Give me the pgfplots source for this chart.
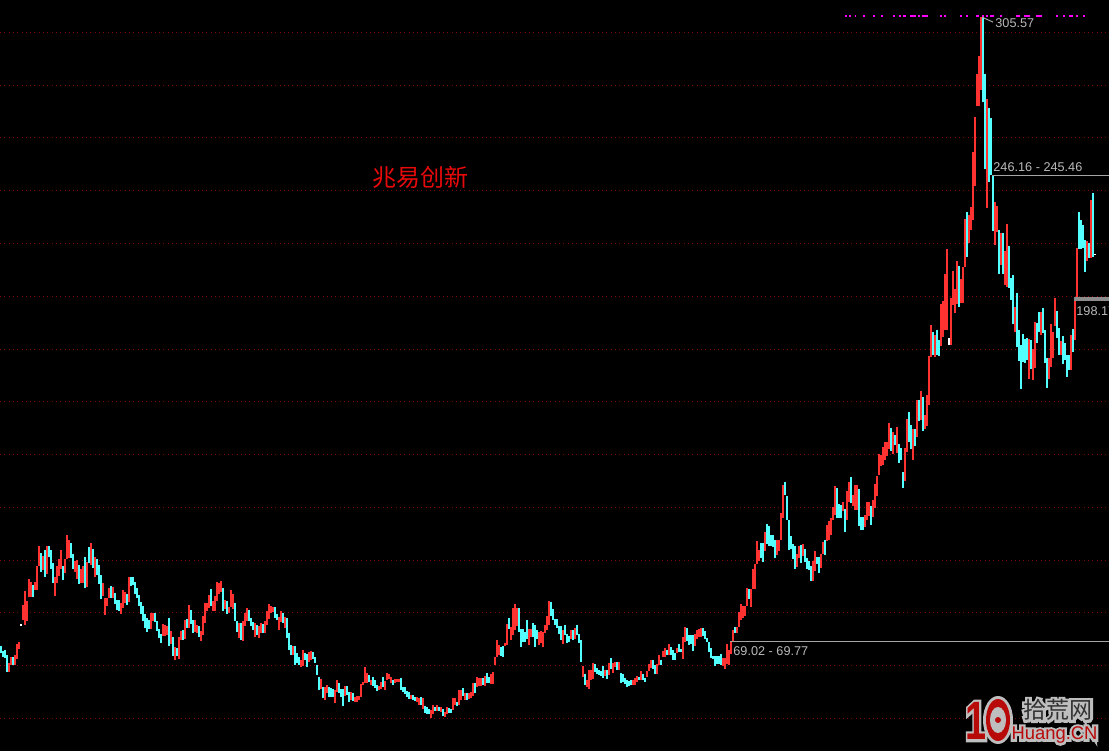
\documentclass[border=0pt]{standalone}
\usepackage{fontspec}
\setmainfont{Liberation Sans}
\newfontfamily\cjk{Noto Sans CJK SC}
\newfontfamily\cjkhalo[FakeBold=22]{Noto Sans CJK SC}
\newfontfamily\enhalo[FakeBold=26]{Liberation Sans}
\newfontfamily\onehalo[FakeBold=10]{Liberation Sans Bold}
\usepackage{pgfplots}
\usepackage{pgfplotstable}
\pgfplotsset{compat=1.18}
\definecolor{barred}{RGB}{255,50,50}
\definecolor{barcyan}{RGB}{84,255,255}
\definecolor{griddot}{RGB}{125,5,5}
\definecolor{lvl}{RGB}{165,165,165}
\definecolor{lbl}{RGB}{185,185,185}
\definecolor{halo}{RGB}{190,190,190}
\definecolor{logored}{RGB}{185,10,10}
\definecolor{topdots}{RGB}{255,0,255}
\pgfplotstableread{
x lo hi
4 57.2 60.3
5 59.6 62.7
7 59.6 63.5
8 62.1 67.7
9 65.8 68.4
11 76.8 82.5
12 74.9 87.8
13 76.4 84.0
14 85.7 92.4
15 85.5 91.2
17 88.2 91.2
18 88.2 97.3
19 97.3 104.9
21 95.8 101.1
23 94.3 104.9
27 85.9 93.3
28 90.9 97.3
29 93.5 100.0
30 96.2 103.4
32 94.5 100.0
33 100.0 109.1
34 100.4 107.2
37 95.0 99.2
38 92.2 99.6
40 90.7 96.2
41 90.7 97.3
43 89.3 98.8
45 97.7 106.1
47 93.1 100.7
51 85.9 90.9
52 78.7 85.2
53 82.1 85.2
54 85.2 89.0
56 85.2 89.3
60 79.1 83.3
61 81.4 88.2
62 83.1 87.4
64 83.6 93.1
75 73.4 79.5
76 76.4 79.5
81 70.7 75.3
82 70.7 74.9
83 71.1 74.5
85 67.7 72.6
87 61.6 66.5
89 62.0 70.3
90 69.2 72.6
92 69.5 76.8
94 73.8 82.5
97 72.2 76.8
98 71.7 74.9
100 68.8 72.6
101 71.1 78.3
102 75.7 83.3
103 80.2 83.3
104 81.4 86.3
106 80.2 84.0
107 80.2 85.9
108 84.0 91.1
109 86.7 90.7
110 87.3 91.6
112 81.0 84.4
114 79.5 81.7
115 81.7 88.2
116 81.0 86.7
119 70.0 75.7
121 68.8 76.4
122 74.5 79.5
123 76.4 81.4
127 70.3 75.7
129 70.0 74.5
130 71.9 75.7
132 71.9 76.4
133 74.9 80.2
134 77.2 82.9
135 79.5 82.1
136 79.8 81.7
139 73.0 77.9
140 76.0 80.2
142 73.8 77.9
146 63.5 66.9
150 58.9 61.6
151 59.3 65.4
154 60.8 64.6
155 61.6 65.0
160 50.6 54.4
162 46.4 51.3
163 49.1 52.1
167 45.3 50.2
168 49.4 54.0
172 47.9 51.7
175 46.4 49.4
177 45.6 47.5
178 45.6 47.9
179 46.4 47.9
180 47.5 52.5
181 52.1 53.2
182 52.9 58.9
183 52.9 56.7
185 52.1 54.0
189 50.2 51.7
190 50.6 53.2
192 50.2 53.6
193 54.0 56.7
194 54.4 56.3
195 52.9 55.1
197 52.9 54.4
198 53.2 54.4
199 53.2 54.4
205 46.8 48.3
208 45.6 47.5
209 44.5 47.2
211 43.0 47.2
215 39.6 42.6
216 41.1 44.5
218 42.2 44.5
220 41.8 43.7
222 39.9 41.8
223 41.1 43.7
226 42.6 47.2
227 44.5 47.2
229 44.5 50.2
230 46.4 50.2
232 46.4 49.1
234 46.8 49.1
235 47.2 49.4
236 47.9 52.9
238 51.3 55.1
239 51.7 54.8
240 51.7 54.8
242 51.7 55.5
245 52.5 56.3
246 52.5 57.0
247 59.7 62.7
248 62.7 69.2
249 63.5 67.3
252 66.9 68.1
253 67.3 75.3
255 69.2 74.1
256 71.1 81.4
257 73.0 82.9
258 74.5 81.4
264 67.3 73.4
265 70.3 73.4
269 67.3 72.2
270 68.1 72.6
271 66.5 72.2
272 71.9 74.9
273 73.0 78.3
274 74.9 84.0
281 67.7 73.0
285 69.6 73.0
287 69.6 73.8
291 55.1 59.3
293 51.3 54.0
294 50.6 57.8
295 54.0 57.8
296 54.4 60.5
302 55.5 57.8
304 55.9 60.5
306 56.7 60.5
307 58.9 60.8
309 57.8 60.8
316 52.1 54.0
317 52.1 54.8
318 53.2 55.5
320 54.0 57.4
323 55.1 57.4
324 57.4 60.1
325 58.6 61.6
328 56.3 60.1
329 59.7 63.5
331 62.7 65.0
332 62.7 66.2
334 63.5 67.7
338 64.3 66.2
341 62.0 70.3
342 68.4 74.1
347 66.9 71.5
348 69.6 73.0
349 70.3 73.4
350 70.3 73.8
361 59.3 62.4
362 58.3 62.4
363 60.1 67.7
364 59.7 65.4
365 63.9 68.4
366 68.4 73.0
368 71.9 74.1
369 74.1 79.8
370 76.8 82.9
371 77.6 82.1
372 78.3 82.1
373 82.1 89.0
375 81.7 88.6
376 88.6 96.2
377 88.6 98.1
378 98.1 106.8
379 99.2 103.4
382 103.0 110.2
388 101.5 107.2
389 103.0 107.2
390 107.2 117.5
391 115.6 128.1
398 96.9 101.9
399 100.4 104.9
401 101.1 105.7
406 91.6 99.2
407 95.4 103.0
410 96.6 101.9
411 101.9 106.4
413 106.8 112.9
414 107.2 114.4
415 109.1 115.6
416 114.8 119.7
417 116.7 127.7
421 118.2 121.6
423 114.8 125.8
424 121.6 129.2
426 120.1 124.3
427 118.6 128.1
428 118.6 128.1
432 112.1 116.7
433 114.8 121.6
434 116.3 121.6
436 115.9 122.4
437 119.4 128.5
438 123.9 131.5
439 131.9 139.9
440 135.3 139.5
441 135.7 142.5
442 137.6 144.4
443 139.1 144.4
444 141.8 151.7
446 139.9 148.2
448 140.3 150.1
452 129.6 142.2
453 140.6 153.2
456 137.6 149.4
458 146.3 160.4
460 152.8 163.8
462 149.4 154.7
463 150.5 162.3
464 158.5 177.1
465 176.7 188.9
467 176.7 185.1
470 180.9 196.9
471 184.3 198.0
472 187.0 208.3
473 187.0 217.8
475 181.3 199.2
476 196.5 209.4
477 193.5 202.6
478 196.9 213.2
480 197.3 206.4
481 197.3 210.9
482 210.9 229.2
484 220.1 230.7
485 225.0 233.7
486 228.8 254.6
487 241.7 267.9
488 272.1 284.3
489 272.1 291.1
490 278.2 305.9
493 233.4 274.8
497 219.3 235.6
498 224.2 234.1
500 211.7 223.9
502 204.1 217.0
503 203.3 227.3
507 186.2 195.7
514 168.4 183.6
516 168.0 179.8
517 172.6 190.0
520 185.1 193.9
524 168.4 176.4
525 172.9 189.3
526 176.4 186.2
527 188.5 199.2
530 177.5 182.8
535 171.8 185.1
537 183.2 198.0
538 198.4 218.2
543 213.2 220.8
545 214.4 236.4
}\redbars
\pgfplotstableread{
x lo hi
0 64.1 66.9
1 62.6 65.1
2 62.4 65.4
3 57.2 63.5
6 59.6 62.7
16 85.5 90.1
20 95.0 102.3
22 93.1 103.4
24 100.9 104.9
25 96.2 103.4
26 90.9 98.5
31 92.0 97.3
35 100.4 106.1
36 96.2 101.9
39 90.5 97.7
42 89.0 100.7
44 98.3 104.5
46 96.6 103.8
48 93.9 100.0
49 90.5 97.7
50 84.8 93.9
55 85.2 89.7
57 82.9 87.1
58 80.6 84.4
59 80.2 84.4
63 82.5 86.7
65 89.7 93.1
66 90.1 93.1
67 86.7 91.2
68 85.2 89.0
69 82.1 86.3
70 79.1 83.6
71 76.4 82.1
72 73.6 79.1
73 72.2 77.6
74 73.4 76.8
77 76.0 79.5
78 72.6 76.4
79 70.0 73.4
80 68.1 71.5
84 66.9 77.6
86 63.1 70.3
88 63.1 66.2
91 69.2 73.0
93 73.8 77.2
95 75.3 80.6
96 71.7 76.8
99 70.3 74.5
105 82.1 88.6
111 80.2 89.0
113 79.1 84.0
117 76.4 83.3
118 72.2 76.4
120 69.2 75.7
124 76.4 80.6
125 74.5 77.6
126 73.0 76.0
128 71.1 74.9
131 71.9 75.3
137 77.6 81.7
138 76.8 79.1
141 75.7 79.5
143 70.0 77.6
144 65.4 71.9
145 63.5 67.3
147 59.7 66.9
148 60.5 64.3
149 59.7 62.7
152 61.6 64.3
153 58.9 63.9
156 62.0 64.6
157 60.5 62.7
158 55.9 59.7
159 50.2 55.1
161 47.1 51.3
164 47.5 51.3
165 47.5 51.0
166 47.5 50.6
169 49.1 52.9
170 47.5 50.6
171 44.1 50.6
173 48.3 51.7
174 45.6 49.4
176 46.0 49.1
184 53.2 55.9
186 51.7 55.1
187 51.0 54.0
188 49.8 52.1
191 51.3 55.1
196 52.1 54.0
200 50.2 54.8
201 49.4 51.3
202 48.7 51.3
203 47.5 49.8
204 46.8 49.4
206 46.4 48.3
207 46.0 47.5
210 44.5 47.5
212 41.5 44.1
213 41.1 43.7
214 41.1 43.0
217 42.2 43.7
219 42.2 43.7
221 40.3 43.0
224 41.5 43.4
225 41.5 43.0
228 44.1 45.6
231 47.9 51.0
233 46.4 49.1
237 49.1 52.9
241 52.1 54.8
243 52.9 56.7
244 52.9 55.1
250 63.1 66.5
251 62.7 66.9
254 73.4 77.6
259 72.2 81.4
260 66.5 73.4
261 68.4 73.4
262 68.4 72.2
263 69.6 76.8
266 70.3 75.7
267 66.5 74.9
268 69.6 73.0
275 78.3 83.6
276 76.8 81.0
277 74.9 77.2
278 73.8 77.2
279 71.5 74.5
280 69.2 74.5
282 71.1 74.9
283 68.1 71.5
284 68.4 70.7
286 69.2 73.0
288 71.1 74.9
289 68.1 71.5
290 60.8 69.2
292 52.1 56.3
297 57.0 60.1
298 56.3 58.6
299 55.9 57.8
300 55.5 57.4
301 54.8 59.3
303 54.4 57.8
305 58.2 62.4
308 57.8 60.8
310 52.9 56.7
311 53.2 56.3
312 52.5 54.8
313 51.3 54.0
314 51.7 53.6
315 52.1 54.0
319 54.0 55.1
321 54.0 56.3
322 53.2 54.8
326 58.2 61.6
327 56.3 59.7
330 59.7 61.6
333 63.5 65.4
335 63.5 66.5
336 61.6 65.4
337 61.6 64.3
339 64.6 67.7
340 64.6 65.8
343 68.8 73.8
344 67.3 71.1
345 67.7 71.1
346 65.0 71.1
351 70.7 73.8
352 69.6 72.6
353 68.4 70.0
354 64.6 68.4
355 62.4 66.2
356 62.0 63.1
357 59.3 63.1
358 60.1 63.1
359 60.1 63.1
360 59.7 63.9
367 71.9 74.1
374 84.8 88.6
380 100.4 106.1
381 98.8 106.1
383 105.7 113.3
384 104.9 112.5
385 104.9 109.1
386 104.5 109.1
387 100.4 107.2
392 124.3 129.2
393 114.8 123.9
394 103.4 114.8
395 103.8 108.7
396 100.0 105.7
397 96.2 104.9
400 98.5 105.3
402 98.8 103.8
403 96.2 100.4
404 95.8 99.2
405 91.6 97.3
408 98.1 100.7
409 94.7 100.7
412 101.5 107.2
418 115.6 127.0
419 115.6 120.9
420 115.6 120.5
422 110.2 119.0
425 121.3 131.1
429 112.5 126.6
430 111.0 115.9
431 111.0 115.9
435 112.9 120.1
445 141.0 149.8
447 143.3 147.1
449 136.5 143.7
450 137.6 142.2
451 127.0 133.0
454 144.4 155.8
455 141.8 150.9
457 142.9 149.4
459 152.4 160.4
461 148.6 161.5
466 177.5 186.2
468 177.5 187.0
469 177.1 183.2
479 195.7 211.3
483 214.7 231.8
491 273.6 305.9
492 248.2 284.3
494 243.2 271.4
495 245.9 267.6
496 224.6 245.5
499 208.3 225.0
501 208.3 223.9
504 203.0 218.9
505 198.4 206.8
506 189.3 207.9
508 180.5 201.1
509 175.2 187.0
510 164.6 181.3
511 174.8 185.5
512 174.5 183.6
513 175.6 184.0
515 172.2 183.2
518 182.1 189.7
519 186.2 193.9
521 185.9 195.4
522 174.5 187.0
523 165.0 176.4
528 184.0 194.2
529 177.5 187.8
531 174.1 184.7
532 175.6 182.1
533 169.1 177.5
534 171.8 177.5
536 178.6 187.4
539 217.8 231.8
540 217.8 228.8
541 218.2 226.9
542 209.0 221.2
544 214.4 220.1
546 214.7 239.1
}\cyanbars
\pgfplotstableread{
x lo hi
10 74.7 75.1
474 181.3 184.0
547 215.5 215.9
}\whitebars
\pgfplotstableread{
x y w
422 306.4 1
424 306.4 1
427 306.4 0.6
431 306.4 1
436 306.4 1
440 306.4 1
446 306.4 1
449 306.4 1
451 306.4 1.5
454.5 306.4 3
458.5 306.4 1
460.5 306.4 3
469.5 306.4 1
471.5 306.4 1
479.5 306.4 1
482.5 306.4 1
487.5 306.4 1.5
490.5 306.4 1
492.5 306.4 1
494.5 306.4 2
499.5 306.4 1
507.5 306.4 2
511.5 306.4 3
517.5 306.4 3
527.5 306.4 1
531 306.4 1
534 306.4 2
537.5 306.4 1
541 306.4 1
}\topmarks
\begin{document}
\begin{tikzpicture}[x=1pt,y=1pt]
\useasboundingbox (0,0) rectangle (554.5,375.5);
\clip (0,0) rectangle (554.5,375.5);
\fill[black] (0,0) rectangle (554.5,375.5);
\begin{axis}[
  at={(0,0)},anchor=south west,
  width=554.5pt,height=375.5pt,scale only axis,
  xmin=-0.5,xmax=554,ymin=27.02,ymax=312.4,
  clip=false,
  axis line style={draw=none},
  xtick=\empty,
  ytick={39.4,59.5,79.5,99.4,119.5,139.7,159.8,179.6,199.7,219.9,240,260.1,280.1,300.2},
  yticklabels={},
  major tick length=0pt,
  ymajorgrids,
  major grid style={griddot,line width=0.5pt,dash pattern=on 0.5pt off 1.65pt},
]
\addplot[draw=none,no markers,error bars/.cd,y dir=plus,y explicit,error mark=none,
  error bar style={draw=barred,line width=1.25pt}]
  table[x=x,y=lo,y error plus expr=\thisrow{hi}-\thisrow{lo}] {\redbars};
\addplot[draw=none,no markers,error bars/.cd,y dir=plus,y explicit,error mark=none,
  error bar style={draw=barcyan,line width=1.25pt}]
  table[x=x,y=lo,y error plus expr=\thisrow{hi}-\thisrow{lo}] {\cyanbars};
\addplot[draw=none,no markers,error bars/.cd,y dir=plus,y explicit,error mark=none,
  error bar style={draw=white,line width=1pt}]
  table[x=x,y=lo,y error plus expr=\thisrow{hi}-\thisrow{lo}] {\whitebars};
\addplot[draw=none,no markers,error bars/.cd,x dir=plus,x explicit,error mark=none,
  error bar style={draw=topdots,line width=1pt}]
  table[x=x,y=y,x error=w] {\topmarks};
\addplot[lvl,line width=0.5pt] coordinates {(364.5,68.8) (554,68.8)};
\addplot[lvl,line width=0.5pt] coordinates {(495.5,245.7) (554,245.7)};
\addplot[color=gray!90,line width=2pt] coordinates {(536.5,198.8) (554,198.8)};
\addplot[lvl,line width=0.5pt] coordinates {(490.5,305.9) (496,304)};
\node[anchor=west,inner sep=0pt,text=lbl,font=\fontsize{6.35}{7}\selectfont] at (axis cs:366,65.0) {69.02 - 69.77};
\node[anchor=west,inner sep=0pt,text=lbl,font=\fontsize{6.35}{7}\selectfont] at (axis cs:496,249.0) {246.16 - 245.46};
\node[anchor=west,inner sep=0pt,text=lbl,font=\fontsize{6.35}{7}\selectfont] at (axis cs:497,303.7) {305.57};
\node[anchor=west,inner sep=0pt,text=lbl,font=\fontsize{6.35}{7}\selectfont] at (axis cs:537.5,194.2) {198.17};
\node[anchor=west,inner sep=0pt,text={rgb,255:red,232;green,10;blue,10},font=\fontsize{12}{14}\selectfont\cjk] at (axis cs:185.5,245.1) {兆易创新};
\end{axis}
% watermark: each text carries a grey glow, as in the reference
\fill[halo] (499,15.5) ellipse [x radius=7.5,y radius=12];
\fill[logored] (499,15.5) ellipse [x radius=6,y radius=10.5];
\fill[halo] (499,15.5) ellipse [x radius=4,y radius=6.5];
\fill[logored] (499,15.5) circle (1.5);
\node[inner sep=0pt,text=halo,font=\fontsize{27}{28}\selectfont\onehalo] at (488,15) {\scalebox{.7}[1]{1}};
\node[inner sep=0pt,text=logored,font=\fontsize{27}{28}\bfseries\selectfont] at (488,15) {\scalebox{.7}[1]{1}};
\node[inner sep=0pt,text=halo,font=\fontsize{11.5}{12}\selectfont\cjkhalo] at (529,20.5) {拾荒网};
\node[inner sep=0pt,text=black!80,font=\fontsize{11.5}{12}\selectfont\cjk] at (529,20.5) {拾荒网};
\node[inner sep=0pt,text=halo,font=\fontsize{9.2}{10}\selectfont\enhalo] at (527.25,8) {Huang.CN};
\node[inner sep=0pt,text=logored,font=\fontsize{9.2}{10}\selectfont] at (527.25,8) {Huang.CN};
\end{tikzpicture}
\end{document}
